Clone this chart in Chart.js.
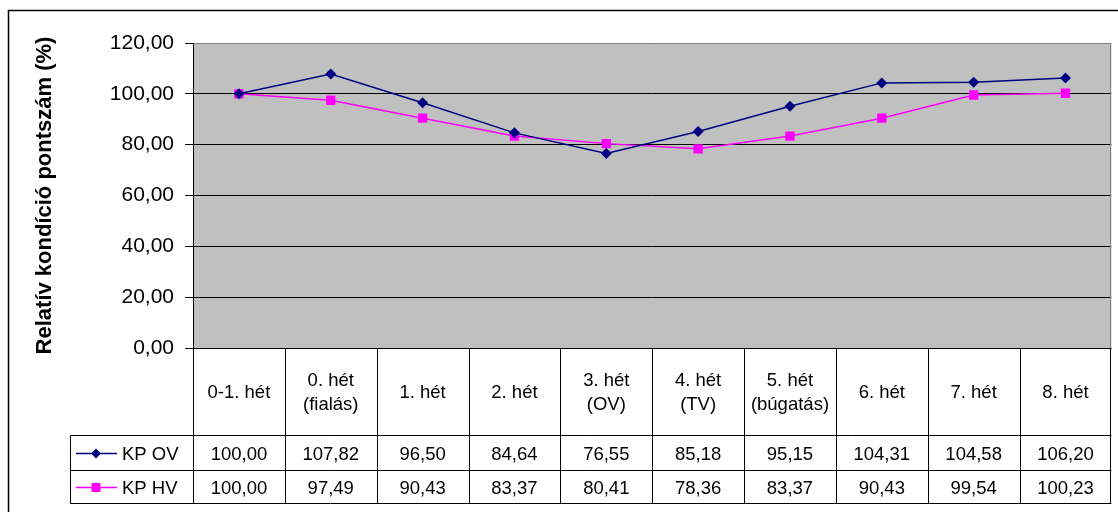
<!DOCTYPE html>
<html>
<head>
<meta charset="utf-8">
<script src="https://cdn.jsdelivr.net/npm/chart.js@4.4.0/dist/chart.umd.min.js"></script>
<style>
  html, body { margin: 0; padding: 0; background: #fff; }
  #wrap { width: 1118px; height: 512px; }
</style>
</head>
<body>
<div id="wrap"><canvas id="kondicio" width="1118" height="512"></canvas></div>
<script>
// data
const weeks = [["0-1. hét"], ["0. hét", "(fialás)"], ["1. hét"], ["2. hét"], ["3. hét", "(OV)"],
               ["4. hét", "(TV)"], ["5. hét", "(búgatás)"], ["6. hét"], ["7. hét"], ["8. hét"]];
const kpOV = [100.00, 107.82, 96.50, 84.64, 76.55, 85.18, 95.15, 104.31, 104.58, 106.20];
const kpHV = [100.00, 97.49, 90.43, 83.37, 80.41, 78.36, 83.37, 90.43, 99.54, 100.23];
const seriesNames = ["KP OV", "KP HV"];
const yMin = 0, yMax = 120, yStep = 20;
const yTitle = "Relatív kondíció pontszám (%)";

const FONT = "'Liberation Sans', Arial, sans-serif";
const fmt = v => v.toFixed(2).replace(".", ",");

// grey plot background + outer frame
const backdrop = {
    id: "backdrop",
    beforeDraw(chart) {
        const { ctx, chartArea: a } = chart;
        ctx.save();
        ctx.fillStyle = "#fff";
        ctx.fillRect(0, 0, chart.width, chart.height);
        ctx.fillStyle = "#C0C0C0";
        ctx.fillRect(a.left, a.top, a.right - a.left, a.bottom - a.top);
        ctx.strokeStyle = "#000";
        ctx.lineWidth = 1.5;
        ctx.beginPath();
        ctx.moveTo(8.5, chart.height + 5);
        ctx.lineTo(8.5, 10.5);
        ctx.lineTo(chart.width + 5, 10.5);
        ctx.stroke();
        ctx.restore();
    }
};

// data table under the plot, columns follow the x scale
const dataTable = {
    id: "dataTable",
    afterDraw(chart) {
        const { ctx, chartArea: a } = chart;
        const xs = chart.scales.x;
        const n = weeks.length;
        const colW = (a.right - a.left) / n;
        const headBottom = 435.5, row1Bottom = 470.5, row2Bottom = 503.5;
        const legendLeft = 70.5;
        const rows = [kpOV, kpHV];
        const colors = chart.data.datasets.map(d => d.borderColor);

        ctx.save();
        // plot right border (grey)
        ctx.strokeStyle = "#808080";
        ctx.lineWidth = 1;
        ctx.beginPath();
        ctx.moveTo(Math.round(a.right) - 0.5, a.top);
        ctx.lineTo(Math.round(a.right) - 0.5, a.bottom);
        ctx.stroke();

        ctx.strokeStyle = "#000";
        ctx.beginPath();
        // horizontal lines
        ctx.moveTo(a.left, Math.round(a.bottom) + 0.5);
        ctx.lineTo(a.right, Math.round(a.bottom) + 0.5);
        [headBottom, row1Bottom, row2Bottom].forEach(y => {
            ctx.moveTo(legendLeft, y);
            ctx.lineTo(a.right, y);
        });
        // vertical lines
        for (let i = 0; i <= n; i++) {
            const x = Math.round(a.left + i * colW) - (i === n ? 0.5 : -0.5);
            ctx.moveTo(x, a.bottom);
            ctx.lineTo(x, row2Bottom);
        }
        ctx.moveTo(legendLeft, headBottom);
        ctx.lineTo(legendLeft, row2Bottom);
        ctx.stroke();

        ctx.fillStyle = "#000";
        ctx.font = "18.5px " + FONT;
        ctx.textAlign = "center";
        ctx.textBaseline = "middle";
        const headMid = (a.bottom + headBottom) / 2 + 1;
        weeks.forEach((lines, i) => {
            const cx = xs.getPixelForValue(i);
            const lh = 24;
            lines.forEach((t, j) => {
                ctx.fillText(t, cx, headMid + (j - (lines.length - 1) / 2) * lh);
            });
        });

        const rowMids = [(headBottom + row1Bottom) / 2 + 1.5, (row1Bottom + row2Bottom) / 2 + 1.5];
        rows.forEach((vals, r) => {
            vals.forEach((v, i) => {
                ctx.fillText(fmt(v), xs.getPixelForValue(i), rowMids[r]);
            });
        });

        // legend keys
        rows.forEach((vals, r) => {
            const y = rowMids[r] - 1;
            ctx.strokeStyle = colors[r];
            ctx.lineWidth = 1.5;
            ctx.beginPath();
            ctx.moveTo(76, y);
            ctx.lineTo(117, y);
            ctx.stroke();
            ctx.fillStyle = colors[r];
            ctx.beginPath();
            if (r === 0) {
                ctx.moveTo(96, y - 5);
                ctx.lineTo(101, y);
                ctx.lineTo(96, y + 5);
                ctx.lineTo(91, y);
                ctx.closePath();
            } else {
                ctx.rect(91.5, y - 4.5, 9, 9);
            }
            ctx.fill();
            ctx.fillStyle = "#000";
            ctx.textAlign = "left";
            ctx.fillText(seriesNames[r], 122, rowMids[r]);
        });
        ctx.restore();
    }
};

new Chart(document.getElementById("kondicio"), {
    type: "line",
    data: {
        labels: weeks,
        datasets: [
            {
                label: seriesNames[0],
                data: kpOV,
                borderColor: "#000080",
                backgroundColor: "#000080",
                borderWidth: 1.5,
                pointStyle: "rectRot",
                pointRadius: 5.5,
                pointBorderWidth: 0,
                tension: 0
            },
            {
                label: seriesNames[1],
                data: kpHV,
                borderColor: "#FF00FF",
                backgroundColor: "#FF00FF",
                borderWidth: 1.5,
                pointStyle: "rect",
                pointRadius: 6.6,
                pointBorderWidth: 0,
                tension: 0
            }
        ]
    },
    options: {
        responsive: false,
        animation: false,
        layout: { padding: { top: 43, right: 6, bottom: 9, left: 0 } },
        plugins: { legend: { display: false }, tooltip: { enabled: false } },
        scales: {
            x: {
                offset: true,
                grid: { display: false },
                border: { display: false },
                ticks: { display: false },
                afterFit(scale) { scale.height = 155; }
            },
            y: {
                min: yMin,
                max: yMax,
                ticks: {
                    stepSize: yStep,
                    color: "#000",
                    padding: 11,
                    font: { family: FONT, size: 21 },
                    callback: v => fmt(v)
                },
                grid: {
                    color: c => (c.tick && c.tick.value === yMax ? "#808080" : "#000"),
                    tickColor: "#000",
                    tickLength: 8,
                    lineWidth: 1
                },
                border: { color: "#000", width: 1 },
                title: {
                    display: true,
                    text: yTitle,
                    color: "#000",
                    padding: { top: 32, bottom: 0 },
                    font: { family: FONT, size: 22, weight: "bold", lineHeight: 1.2 }
                },
                afterFit(scale) { scale.width = 193; }
            }
        }
    },
    plugins: [backdrop, dataTable]
});
</script>
</body>
</html>
